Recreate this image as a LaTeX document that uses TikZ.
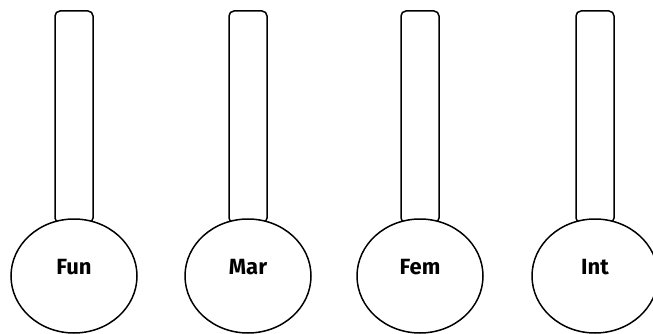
\documentclass[tikz,border=0pt]{standalone}
\usepackage{fontspec}
\setmainfont{Fira Sans}
\usetikzlibrary{shapes.geometric}
\tikzset{
  tube/.style={draw, line width=1.5pt, rounded corners=5pt, minimum width=38pt, minimum height=212pt, inner sep=0pt, fill=white},
  bulb/.style={draw, ellipse, line width=1.5pt, minimum width=126pt, minimum height=114pt, inner sep=0pt, fill=white},
  lbl/.style={font=\fontsize{22}{24}\selectfont\bfseries, inner sep=0pt, anchor=base}
}
\begin{document}
\begin{tikzpicture}[x=1pt,y=-1pt]
\useasboundingbox[fill=white] (0,0) rectangle (653,334);
\foreach \x/\t/\n in {74/Fun/a, 248/Mar/b, 420/Fem/c, 595/Int/d}{
  \node[tube] (tube\n) at (\x,117) {};
  \node[bulb] (bulb\n) at (\x,276) {};
  \node[lbl] (text\n) at (\x,274.5) {\t};
}
\end{tikzpicture}
\end{document}
